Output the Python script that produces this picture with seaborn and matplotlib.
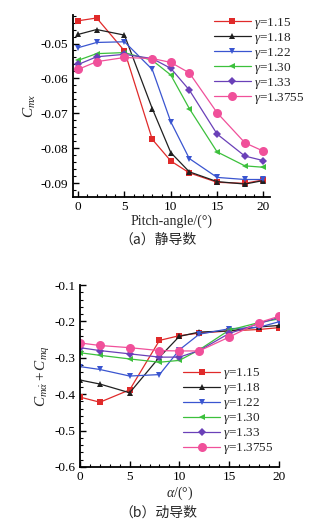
import numpy as np
import pandas as pd
import matplotlib
matplotlib.use("Agg")
import matplotlib.pyplot as plt
from matplotlib.ticker import MultipleLocator, FormatStrFormatter
import seaborn as sns

# ─── Data ──────────────────────────────────────────────────
angles = [0, 2, 5, 8, 10, 12, 15, 18, 20]
gammas = ['1.15', '1.18', '1.22', '1.30', '1.33', '1.3755']

# (a) static derivative C_mx
cmx_115  = [-0.0435, -0.0427, -0.0521, -0.0774, -0.0836, -0.0870, -0.0897, -0.0900, -0.0890]
cmx_118  = [-0.0474, -0.0460, -0.0476, -0.0686, -0.0812, -0.0867, -0.0895, -0.0902, -0.0892]
cmx_122  = [-0.0512, -0.0497, -0.0495, -0.0574, -0.0724, -0.0829, -0.0883, -0.0889, -0.0889]
cmx_130  = [-0.0548, -0.0529, -0.0526, -0.0548, -0.0590, -0.0686, -0.0810, -0.0850, -0.0854]
cmx_133  = [-0.0560, -0.0538, -0.0531, -0.0543, -0.0571, -0.0633, -0.0759, -0.0822, -0.0835]
cmx_1375 = [-0.0574, -0.0552, -0.0540, -0.0543, -0.0554, -0.0584, -0.0698, -0.0784, -0.0808]

# (b) dynamic derivative C_m(alpha dot) + C_mq
dyn_115  = [-0.408, -0.422, -0.388, -0.252, -0.239, -0.232, -0.226, -0.222, -0.217]
dyn_118  = [-0.361, -0.372, -0.396, -0.298, -0.241, -0.229, -0.226, -0.215, -0.211]
dyn_122  = [-0.324, -0.332, -0.350, -0.346, -0.278, -0.235, -0.220, -0.216, -0.201]
dyn_130  = [-0.286, -0.293, -0.303, -0.312, -0.307, -0.278, -0.224, -0.203, -0.193]
dyn_133  = [-0.272, -0.280, -0.289, -0.298, -0.298, -0.280, -0.233, -0.206, -0.189]
dyn_1375 = [-0.259, -0.266, -0.272, -0.280, -0.281, -0.281, -0.243, -0.203, -0.186]

static_series  = [cmx_115, cmx_118, cmx_122, cmx_130, cmx_133, cmx_1375]
dynamic_series = [dyn_115, dyn_118, dyn_122, dyn_130, dyn_133, dyn_1375]

colors  = ['#e02a2a', '#202020', '#3a55d0', '#3cc03c', '#6a40b8', '#f0509a']
markers = ['s', '^', 'v', '<', 'D', 'o']
msizes  = [4.5, 4.5, 4.5, 4.5, 4.0, 6.5]

# ─── Style ─────────────────────────────────────────────────
sns.set_style('white')
plt.rcParams['font.family'] = ['Liberation Serif', 'Noto Sans CJK SC', 'DejaVu Sans']
plt.rcParams['mathtext.fontset'] = 'custom'
plt.rcParams['mathtext.rm'] = 'Liberation Serif'
plt.rcParams['mathtext.it'] = 'Liberation Serif:italic'
plt.rcParams['mathtext.bf'] = 'Liberation Serif:bold'
plt.rcParams['axes.unicode_minus'] = False

fig = plt.figure(figsize=(3.24, 5.30), dpi=100)
ax1 = fig.add_axes([0.224, 0.629, 0.609, 0.343])
ax2 = fig.add_axes([0.247, 0.119, 0.613, 0.343])


def draw(ax, series):
    for vals, g, c, m, ms in zip(series, gammas, colors, markers, msizes):
        df = pd.DataFrame({'x': angles, 'y': vals})
        sns.lineplot(data=df, x='x', y='y', ax=ax, color=c, marker=m,
                     markersize=ms, markeredgewidth=0, linewidth=0.9,
                     label='$\\gamma$=' + g)


def style(ax):
    for side in ['top', 'right']:
        ax.spines[side].set_visible(False)
    for side in ['left', 'bottom']:
        ax.spines[side].set_color('black')
        ax.spines[side].set_linewidth(1.3)
    ax.tick_params(which='both', direction='in', colors='black',
                   labelsize=9.5, left=True, bottom=True, pad=3)
    ax.tick_params(which='major', length=4, width=1)
    ax.tick_params(which='minor', length=2.5, width=0.8)
    ax.xaxis.set_major_locator(MultipleLocator(5))
    ax.xaxis.set_minor_locator(MultipleLocator(1))


# (a) static
draw(ax1, static_series)
style(ax1)
ax1.set_xlim(-0.6, 20.7)
ax1.set_ylim(-0.0938, -0.0418)
ax1.yaxis.set_major_locator(MultipleLocator(0.01))
ax1.yaxis.set_minor_locator(MultipleLocator(0.002))
ax1.yaxis.set_major_formatter(FormatStrFormatter('%.2f'))
ax1.set_xlabel('Pitch-angle/(°)', fontsize=10, labelpad=1)
ax1.set_ylabel('$C_{mx}$', fontsize=11, labelpad=2)
ax1.legend(loc='upper right', bbox_to_anchor=(1.2, 1.025), frameon=False,
           fontsize=9.5, handlelength=2.8, handletextpad=0.2,
           labelspacing=0.0, borderaxespad=0)

# (b) dynamic
draw(ax2, dynamic_series)
style(ax2)
ax2.set_xlim(0, 20)
ax2.set_ylim(-0.6, -0.1)
ax2.yaxis.set_major_locator(MultipleLocator(0.1))
ax2.yaxis.set_minor_locator(MultipleLocator(0.02))
ax2.yaxis.set_major_formatter(FormatStrFormatter('%.1f'))
ax2.set_xlabel('$\\alpha$/(°)', fontsize=10, labelpad=1)
ax2.set_ylabel('$C_{m\\dot{\\alpha}}+C_{mq}$', fontsize=11, labelpad=2)
ax2.legend(loc='lower right', bbox_to_anchor=(1.0, 0.03), frameon=False,
           fontsize=9.5, handlelength=2.8, handletextpad=0.2,
           labelspacing=0.0, borderaxespad=0)

# captions
fig.text(0.487, 1 - 240 / 530, '（a）静导数', ha='center', va='center', fontsize=10,
         family=['Noto Sans CJK SC', 'DejaVu Sans'])
fig.text(0.49, 1 - 513 / 530, '（b）动导数', ha='center', va='center', fontsize=10,
         family=['Noto Sans CJK SC', 'DejaVu Sans'])

fig.savefig('out.png', dpi=100)
